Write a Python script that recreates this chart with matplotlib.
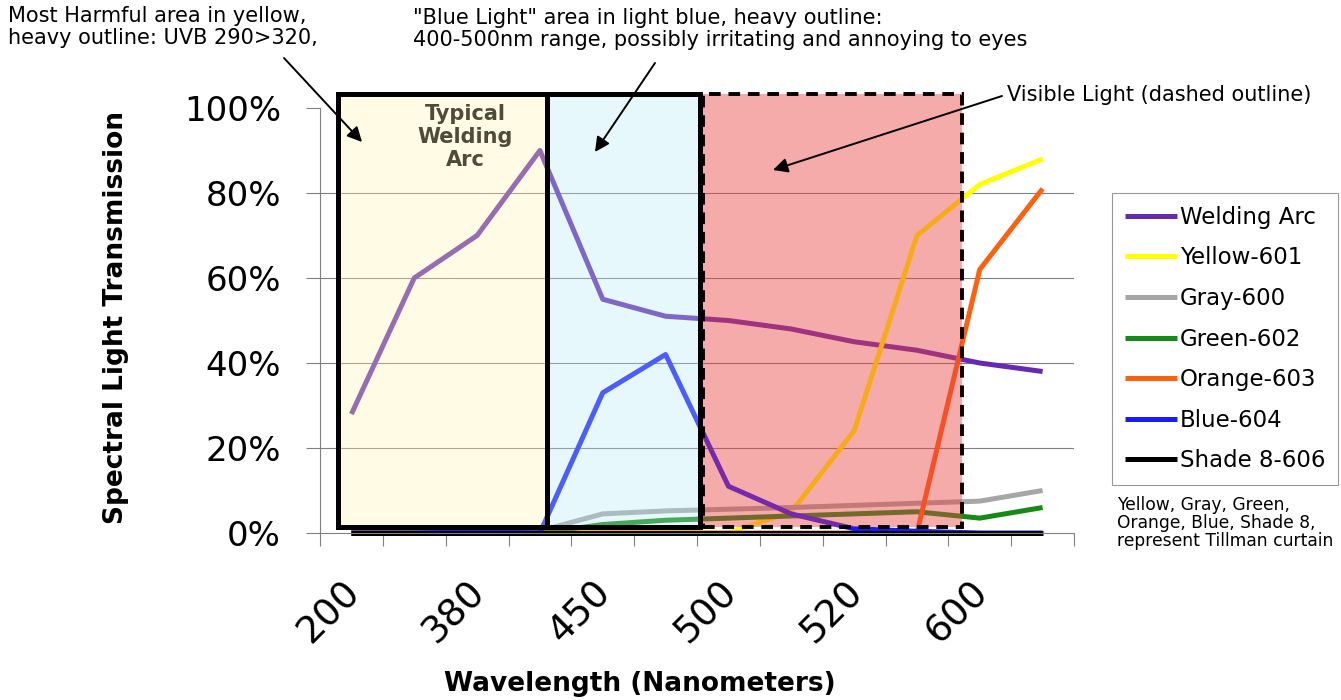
import numpy as np
import matplotlib.pyplot as plt
from matplotlib.patches import Rectangle
from matplotlib.transforms import ScaledTranslation

# wavelength categories (only every other one is labelled in the original chart)
tick_labels = ["200", "380", "450", "500", "520", "600"]
n_points = 12

# spectral transmission (fraction) per category
welding_arc = [0.28, 0.60, 0.70, 0.90, 0.55, 0.51, 0.50, 0.48, 0.45, 0.43, 0.40, 0.38]
yellow_601 = [0, 0, 0, 0, 0, 0, 0, 0.05, 0.24, 0.70, 0.82, 0.88]
gray_600 = [0, 0, 0, 0.005, 0.045, 0.052, 0.056, 0.06, 0.065, 0.07, 0.075, 0.10]
green_602 = [0, 0, 0, 0, 0.02, 0.03, 0.035, 0.04, 0.045, 0.05, 0.035, 0.06]
orange_603 = [0, 0, 0, 0, 0, 0, 0, 0, 0, 0, 0.62, 0.81]
blue_604 = [0, 0, 0.003, 0, 0.33, 0.42, 0.11, 0.045, 0.01, 0.004, 0, 0]
shade_606 = [0, 0, 0, 0, 0, 0, 0, 0, 0, 0, 0, 0]

series = [
    ("Welding Arc", welding_arc, "#652ab0"),
    ("Yellow-601", yellow_601, "#ffff00"),
    ("Gray-600", gray_600, "#a6a6a6"),
    ("Green-602", green_602, "#168a16"),
    ("Orange-603", orange_603, "#ff6010"),
    ("Blue-604", blue_604, "#1a1aff"),
    ("Shade 8-606", shade_606, "#000000"),
]

# highlighted regions: (left, right) in category units, shared bottom/top
box_bottom, box_top = 0.014, 1.033
uv_box = (-0.213, 3.113)
blue_box = (3.113, 5.548)
visible_box = (5.60, 9.718)

W, H = 1341, 700
fig = plt.figure(figsize=(W / 100, H / 100), dpi=100)
ax = fig.add_axes([320 / W, (H - 533) / H, 754 / W, 425 / H])

x = np.arange(n_points)
for name, vals, col in series:
    ax.plot(x, vals, color=col, lw=3.6, label=name, zorder=2,
            clip_on=False, solid_capstyle="butt")

# coloured fills drawn over the lines (semi transparent), outlines on top
ax.add_patch(Rectangle((uv_box[0], box_bottom), uv_box[1] - uv_box[0], box_top - box_bottom,
                       facecolor="#fff3b0", alpha=0.33, edgecolor="none", zorder=3, clip_on=False))
ax.add_patch(Rectangle((blue_box[0], box_bottom), blue_box[1] - blue_box[0], box_top - box_bottom,
                       facecolor="#b4ebf5", alpha=0.32, edgecolor="none", zorder=3, clip_on=False))
ax.add_patch(Rectangle((visible_box[0], box_bottom), visible_box[1] - visible_box[0], box_top - box_bottom,
                       facecolor="#ec4040", alpha=0.44, edgecolor="none", zorder=3, clip_on=False))
for left, right in (uv_box, blue_box):
    ax.add_patch(Rectangle((left, box_bottom), right - left, box_top - box_bottom,
                           fill=False, edgecolor="black", lw=3.6, zorder=4, clip_on=False))
ax.add_patch(Rectangle((visible_box[0], box_bottom), visible_box[1] - visible_box[0], box_top - box_bottom,
                       fill=False, edgecolor="black", lw=2.8, ls=(0, (3, 2)), zorder=4, clip_on=False))

ax.text(1.81, 1.01, "Typical\nWelding\nArc", ha="center", va="top", fontsize=15,
        fontweight="bold", color="#4d4b3a", linespacing=1.2, zorder=5)

# axes styling
ax.set_xlim(-0.5, n_points - 0.5)
ax.set_ylim(0, 1.0)
ax.set_yticks(np.arange(0, 1.01, 0.2))
ax.set_yticklabels([f"{int(round(v * 100))}%" for v in np.arange(0, 1.01, 0.2)], fontsize=24.5)
ax.set_xticks(np.arange(0, n_points, 2))
ax.set_xticklabels(tick_labels, fontsize=27, rotation=45, ha="right", va="top",
                   rotation_mode="anchor")
ax.set_xticks(np.arange(-0.5, n_points, 1), minor=True)
ax.tick_params(axis="x", which="major", length=0, pad=30)
ax.tick_params(axis="x", which="minor", length=9, color="#808080", width=0.8, direction="out")
ax.tick_params(axis="y", length=10, color="#808080", width=0.8, pad=18)
# nudge the rotated labels left (after tick_params, which resets transforms)
shift = ScaledTranslation(-10 / 100, 0, fig.dpi_scale_trans)
for lab in ax.get_xticklabels():
    lab.set_transform(lab.get_transform() + shift)
for v in np.arange(0.2, 0.81, 0.2):
    ax.axhline(v, color="#808080", lw=0.8, zorder=1)
for side in ("top", "right"):
    ax.spines[side].set_visible(False)
for side in ("left", "bottom"):
    ax.spines[side].set_color("#808080")
    ax.spines[side].set_linewidth(0.8)

fig.text(116 / W, 1 - 318 / H, "Spectral Light Transmission", rotation=90, ha="center",
         va="center", fontsize=19, fontweight="bold")
fig.text(640 / W, 1 - 684 / H, "Wavelength (Nanometers)", ha="center", va="center",
         fontsize=19, fontweight="bold")

leg = fig.legend(loc="upper left", bbox_to_anchor=(1112 / W, 1 - 193 / H), fontsize=16.5,
                 frameon=True, fancybox=False, edgecolor="#808080", borderaxespad=0,
                 handlelength=2.3, handletextpad=0.1, labelspacing=0.77, borderpad=0.55)
leg.get_frame().set_linewidth(0.8)

fig.text(1117 / W, 1 - 496 / H, "Yellow, Gray, Green,\nOrange, Blue, Shade 8,\nrepresent Tillman curtain",
         ha="left", va="top", fontsize=12.3, linespacing=1.0)

# callout texts with arrows
fig.text(8 / W, 1 - 6 / H, "Most Harmful area in yellow,\nheavy outline: UVB 290>320,",
         ha="left", va="top", fontsize=15, linespacing=1.15)
fig.text(413 / W, 1 - 8 / H,
         "\"Blue Light\" area in light blue, heavy outline:\n400-500nm range, possibly irritating and annoying to eyes",
         ha="left", va="top", fontsize=15, linespacing=1.15)
fig.text(1007 / W, 1 - 95 / H, "Visible Light (dashed outline)", ha="left", va="center", fontsize=15)

arrow = dict(arrowstyle="-|>", color="black", lw=1.4, mutation_scale=22, shrinkA=0, shrinkB=0)
for tail, head in (((284, 58), (362, 142)), ((655, 63), (595, 152)), ((1002, 96), (773, 170))):
    ax.annotate("", xy=(head[0], H - head[1]), xycoords="figure pixels",
                xytext=(tail[0], H - tail[1]), textcoords="figure pixels",
                arrowprops=arrow, annotation_clip=False, zorder=6)

fig.savefig("out.png", dpi=100, facecolor="white")
